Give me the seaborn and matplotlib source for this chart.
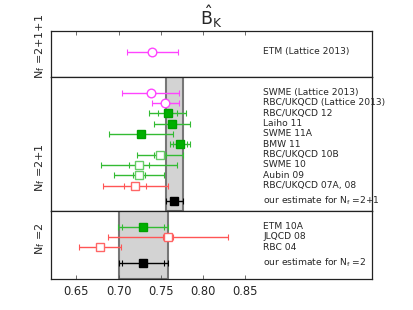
import numpy as np
import matplotlib
matplotlib.use("Agg")
import matplotlib.pyplot as plt
import seaborn as sns

sns.set_theme(style="white")
plt.rcParams['font.family'] = ['DejaVu Sans']
plt.rcParams['mathtext.default'] = 'regular'

# ---- data ----
names4 = ["ETM (Lattice 2013)"]
vals4 = [0.740]
stat4 = [0.0]
tot4 = [0.030]
kind4 = ["circ_m"]

names3 = ["SWME (Lattice 2013)", "RBC/UKQCD (Lattice 2013)", "RBC/UKQCD 12", "Laiho 11",
          "SWME 11A", "BMW 11", "RBC/UKQCD 10B", "SWME 10", "Aubin 09", "RBC/UKQCD 07A, 08"]
vals3 = [0.738, 0.755, 0.758, 0.763, 0.727, 0.773, 0.749, 0.724, 0.724, 0.720]
stat3 = [0.0, 0.0, 0.011, 0.0, 0.0, 0.008, 0.007, 0.012, 0.007, 0.013]
tot3 = [0.034, 0.016, 0.022, 0.021, 0.038, 0.012, 0.027, 0.045, 0.030, 0.039]
kind3 = ["circ_m", "circ_m", "sq_g", "sq_g", "sq_g", "sq_g", "open_g", "open_g", "open_g", "open_r"]
est3 = 0.766
est3_err = 0.010

names2 = ["ETM 10A", "JLQCD 08", "RBC 04"]
vals2 = [0.729, 0.758, 0.678]
stat2 = [0.025, 0.006, 0.0]
tot2 = [0.030, 0.071, 0.025]
kind2 = ["sq_g", "open_r", "open_r"]
est2 = 0.729
est2_stat = 0.025
est2_err = 0.029

xticks = [0.65, 0.70, 0.75, 0.80, 0.85]

styles = {
    "circ_m": dict(marker="o", mfc="white", mec="#ff44ff", line="#ff44ff"),
    "sq_g": dict(marker="s", mfc="#00b000", mec="#00a000", line="#33bb33"),
    "open_g": dict(marker="s", mfc="white", mec="#66cc66", line="#33bb33"),
    "open_r": dict(marker="s", mfc="white", mec="#ff6666", line="#ff5555"),
    "est": dict(marker="s", mfc="black", mec="black", line="black"),
}

fig = plt.figure(figsize=(4.13, 3.10), dpi=100)
gs = fig.add_gridspec(3, 1, height_ratios=[46, 134, 68], hspace=0,
                      left=0.1235, right=0.9007, top=0.9, bottom=0.1)
axes = [fig.add_subplot(gs[i]) for i in range(3)]

TXT_X = 0.871
FS_TXT = 6.6


def draw_point(ax, y, v, s, t, kind):
    st = styles[kind]
    ax.errorbar([v], [y], xerr=[t], fmt="none", ecolor=st["line"], elinewidth=1.0,
                capsize=2.0, capthick=0.8, zorder=2)
    if s > 0:
        ax.plot([v - s, v + s], [y, y], linestyle="none", marker="|", ms=4,
                mew=0.8, color=st["line"], zorder=2)
    ax.plot([v], [y], linestyle="none", marker=st["marker"], ms=6.2,
            mfc=st["mfc"], mec=st["mec"], mew=1.0, zorder=3)


# top panel
ax = axes[0]
for i, (n, v, s, t, k) in enumerate(zip(names4, vals4, stat4, tot4, kind4)):
    draw_point(ax, i, v, s, t, k)
    ax.text(TXT_X, i, n, fontsize=FS_TXT, va="center", ha="left")
ax.set_ylim(2.45, -2.0)

# middle panel
ax = axes[1]
ax.axvspan(est3 - est3_err, est3 + est3_err, facecolor="#d3d3d3", edgecolor="#777777",
           linewidth=1.5, zorder=0)
for i, (n, v, s, t, k) in enumerate(zip(names3, vals3, stat3, tot3, kind3)):
    draw_point(ax, i, v, s, t, k)
    ax.text(TXT_X, i, n, fontsize=FS_TXT, va="center", ha="left")
yest3 = len(names3) + 0.5
draw_point(ax, yest3, est3, 0.0, est3_err, "est")
ax.text(TXT_X, yest3, "our estimate for N$_f$ =2+1", fontsize=FS_TXT, va="center", ha="left")
ax.set_ylim(11.45, -1.5)

# bottom panel
ax = axes[2]
ax.axvspan(est2 - est2_err, est2 + est2_err, facecolor="#d3d3d3", edgecolor="#777777",
           linewidth=1.5, zorder=0)
for i, (n, v, s, t, k) in enumerate(zip(names2, vals2, stat2, tot2, kind2)):
    draw_point(ax, i, v, s, t, k)
    ax.text(TXT_X, i, n, fontsize=FS_TXT, va="center", ha="left")
yest2 = len(names2) + 0.5
draw_point(ax, yest2, est2, est2_stat, est2_err, "est")
ax.text(TXT_X, yest2, "our estimate for N$_f$ =2", fontsize=FS_TXT, va="center", ha="left")
ax.set_ylim(5.05, -1.5)

ylabels = ["N$_f$ =2+1+1", "N$_f$ =2+1", "N$_f$ =2"]
ylab_pos = [0.66, 0.32, 0.59]
for ax, lab, yp in zip(axes, ylabels, ylab_pos):
    ax.set_xlim(0.62, 1.0)
    ax.set_yticks([])
    for sp in ax.spines.values():
        sp.set_color("#222222")
        sp.set_linewidth(0.9)
    ax.text(-0.033, yp, lab, transform=ax.transAxes, rotation=90, ha="center",
            va="center", fontsize=8)

axes[0].set_xticks(xticks)
axes[0].tick_params(axis="x", direction="in", top=True, bottom=False, labeltop=False,
                    labelbottom=False, length=3, width=0.6, color="#555555")
axes[1].set_xticks([])
axes[2].set_xticks(xticks)
axes[2].set_xticklabels([f"{t:.2f}" for t in xticks])
axes[2].tick_params(axis="x", direction="in", bottom=True, top=False, length=3, width=0.6,
                    color="#555555", labelsize=8.3, pad=4)

axes[0].set_title(r"$\hat{\mathrm{B}}_\mathrm{K}$", fontsize=12.5, pad=4)

fig.savefig("out.png", dpi=100)
